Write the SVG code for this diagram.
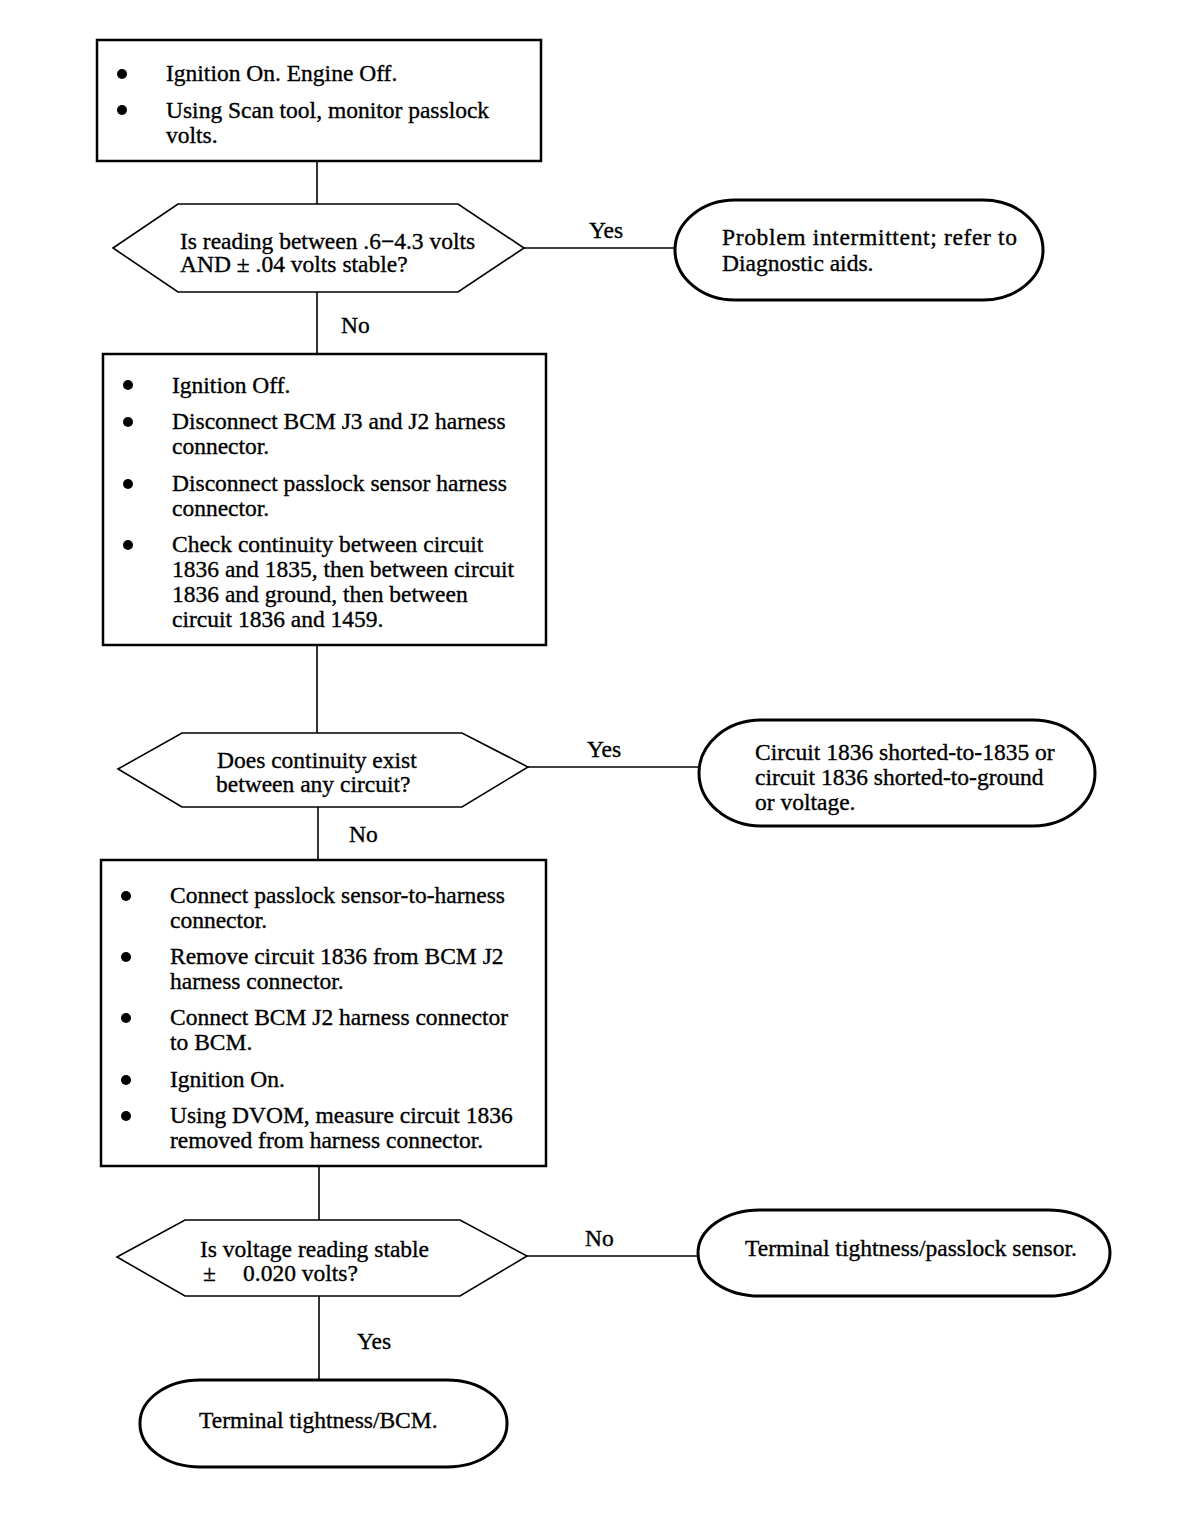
<svg xmlns="http://www.w3.org/2000/svg" width="1184" height="1516" viewBox="0 0 1184 1516">
<style>
text{font-family:"Liberation Serif","Times New Roman",serif;font-size:23.5px;fill:#000;stroke:#000;stroke-width:0.35}
.box{fill:#fff;stroke:#000;stroke-width:2.5}
.dec{fill:#fff;stroke:#000;stroke-width:1.6}
.term{fill:#fff;stroke:#000;stroke-width:3}
.con line{stroke:#000;stroke-width:1.6}
.b{fill:#000}
</style>
<rect width="1184" height="1516" fill="#fff"/>
<g class="con" id="connectors">
<line x1="317" y1="161" x2="317" y2="204"/>
<line x1="524" y1="248" x2="675" y2="248"/>
<line x1="317" y1="292" x2="317" y2="354"/>
<line x1="317" y1="645" x2="317" y2="733"/>
<line x1="528" y1="767" x2="700" y2="767"/>
<line x1="318" y1="807" x2="318" y2="860"/>
<line x1="319" y1="1166" x2="319" y2="1220"/>
<line x1="527" y1="1256" x2="698" y2="1256"/>
<line x1="319" y1="1296" x2="319" y2="1381"/>
<text x="589" y="238">Yes</text>
<text x="341" y="333">No</text>
<text x="587" y="757">Yes</text>
<text x="349" y="842">No</text>
<text x="585" y="1246">No</text>
<text x="357" y="1349">Yes</text>
</g>
<g id="box1">
<rect class="box" x="97" y="40" width="444" height="121"/>
<circle class="b" cx="122" cy="74" r="5"/>
<circle class="b" cx="122" cy="110" r="5"/>
<text x="166" y="81">Ignition On. Engine Off.</text>
<text x="166" y="118">Using Scan tool, monitor passlock</text>
<text x="166" y="143">volts.</text>
</g>
<g id="decision1">
<polygon class="dec" points="113,248 178,204 458,204 524,248 458,292 178,292"/>
<text x="180" y="249">Is reading between .6−4.3 volts</text>
<text x="180" y="272">AND ± .04 volts stable?</text>
</g>
<g id="term1">
<rect class="term" x="675" y="200" width="368" height="100" rx="60" ry="50"/>
<text x="722" y="245" textLength="295" lengthAdjust="spacing">Problem intermittent; refer to</text>
<text x="722" y="271">Diagnostic aids.</text>
</g>
<g id="box2">
<rect class="box" x="103" y="354" width="443" height="291"/>
<circle class="b" cx="128" cy="385" r="5"/>
<circle class="b" cx="128" cy="422" r="5"/>
<circle class="b" cx="128" cy="484" r="5"/>
<circle class="b" cx="128" cy="545" r="5"/>
<text x="172" y="393">Ignition Off.</text>
<text x="172" y="429">Disconnect BCM J3 and J2 harness</text>
<text x="172" y="454">connector.</text>
<text x="172" y="491">Disconnect passlock sensor harness</text>
<text x="172" y="516">connector.</text>
<text x="172" y="552">Check continuity between circuit</text>
<text x="172" y="577">1836 and 1835, then between circuit</text>
<text x="172" y="602">1836 and ground, then between</text>
<text x="172" y="627">circuit 1836 and 1459.</text>
</g>
<g id="decision2">
<polygon class="dec" points="118,769 182,733 462,733 528,767 462,807 182,807"/>
<text x="217" y="768">Does continuity exist</text>
<text x="216" y="792">between any circuit?</text>
</g>
<g id="term2">
<rect class="term" x="699" y="720" width="396" height="106" rx="62" ry="53"/>
<text x="755" y="760">Circuit 1836 shorted-to-1835 or</text>
<text x="755" y="785">circuit 1836 shorted-to-ground</text>
<text x="755" y="810">or voltage.</text>
</g>
<g id="box3">
<rect class="box" x="101" y="860" width="445" height="306"/>
<circle class="b" cx="126" cy="896" r="5"/>
<circle class="b" cx="126" cy="957" r="5"/>
<circle class="b" cx="126" cy="1018" r="5"/>
<circle class="b" cx="126" cy="1080" r="5"/>
<circle class="b" cx="126" cy="1116" r="5"/>
<text x="170" y="903">Connect passlock sensor-to-harness</text>
<text x="170" y="928">connector.</text>
<text x="170" y="964">Remove circuit 1836 from BCM J2</text>
<text x="170" y="989">harness connector.</text>
<text x="170" y="1025">Connect BCM J2 harness connector</text>
<text x="170" y="1050">to BCM.</text>
<text x="170" y="1087">Ignition On.</text>
<text x="170" y="1123">Using DVOM, measure circuit 1836</text>
<text x="170" y="1148">removed from harness connector.</text>
</g>
<g id="decision3">
<polygon class="dec" points="117,1257 185,1220 460,1220 527,1256 460,1296 185,1296"/>
<text x="200" y="1257">Is voltage reading stable</text>
<text x="203" y="1281">±</text>
<text x="243" y="1281">0.020 volts?</text>
</g>
<g id="term3">
<rect class="term" x="698" y="1210" width="412" height="86" rx="62" ry="43"/>
<text x="745" y="1256">Terminal tightness/passlock sensor.</text>
</g>
<g id="term4">
<rect class="term" x="140" y="1380" width="367" height="87" rx="60" ry="43"/>
<text x="199" y="1428">Terminal tightness/BCM.</text>
</g>
</svg>
